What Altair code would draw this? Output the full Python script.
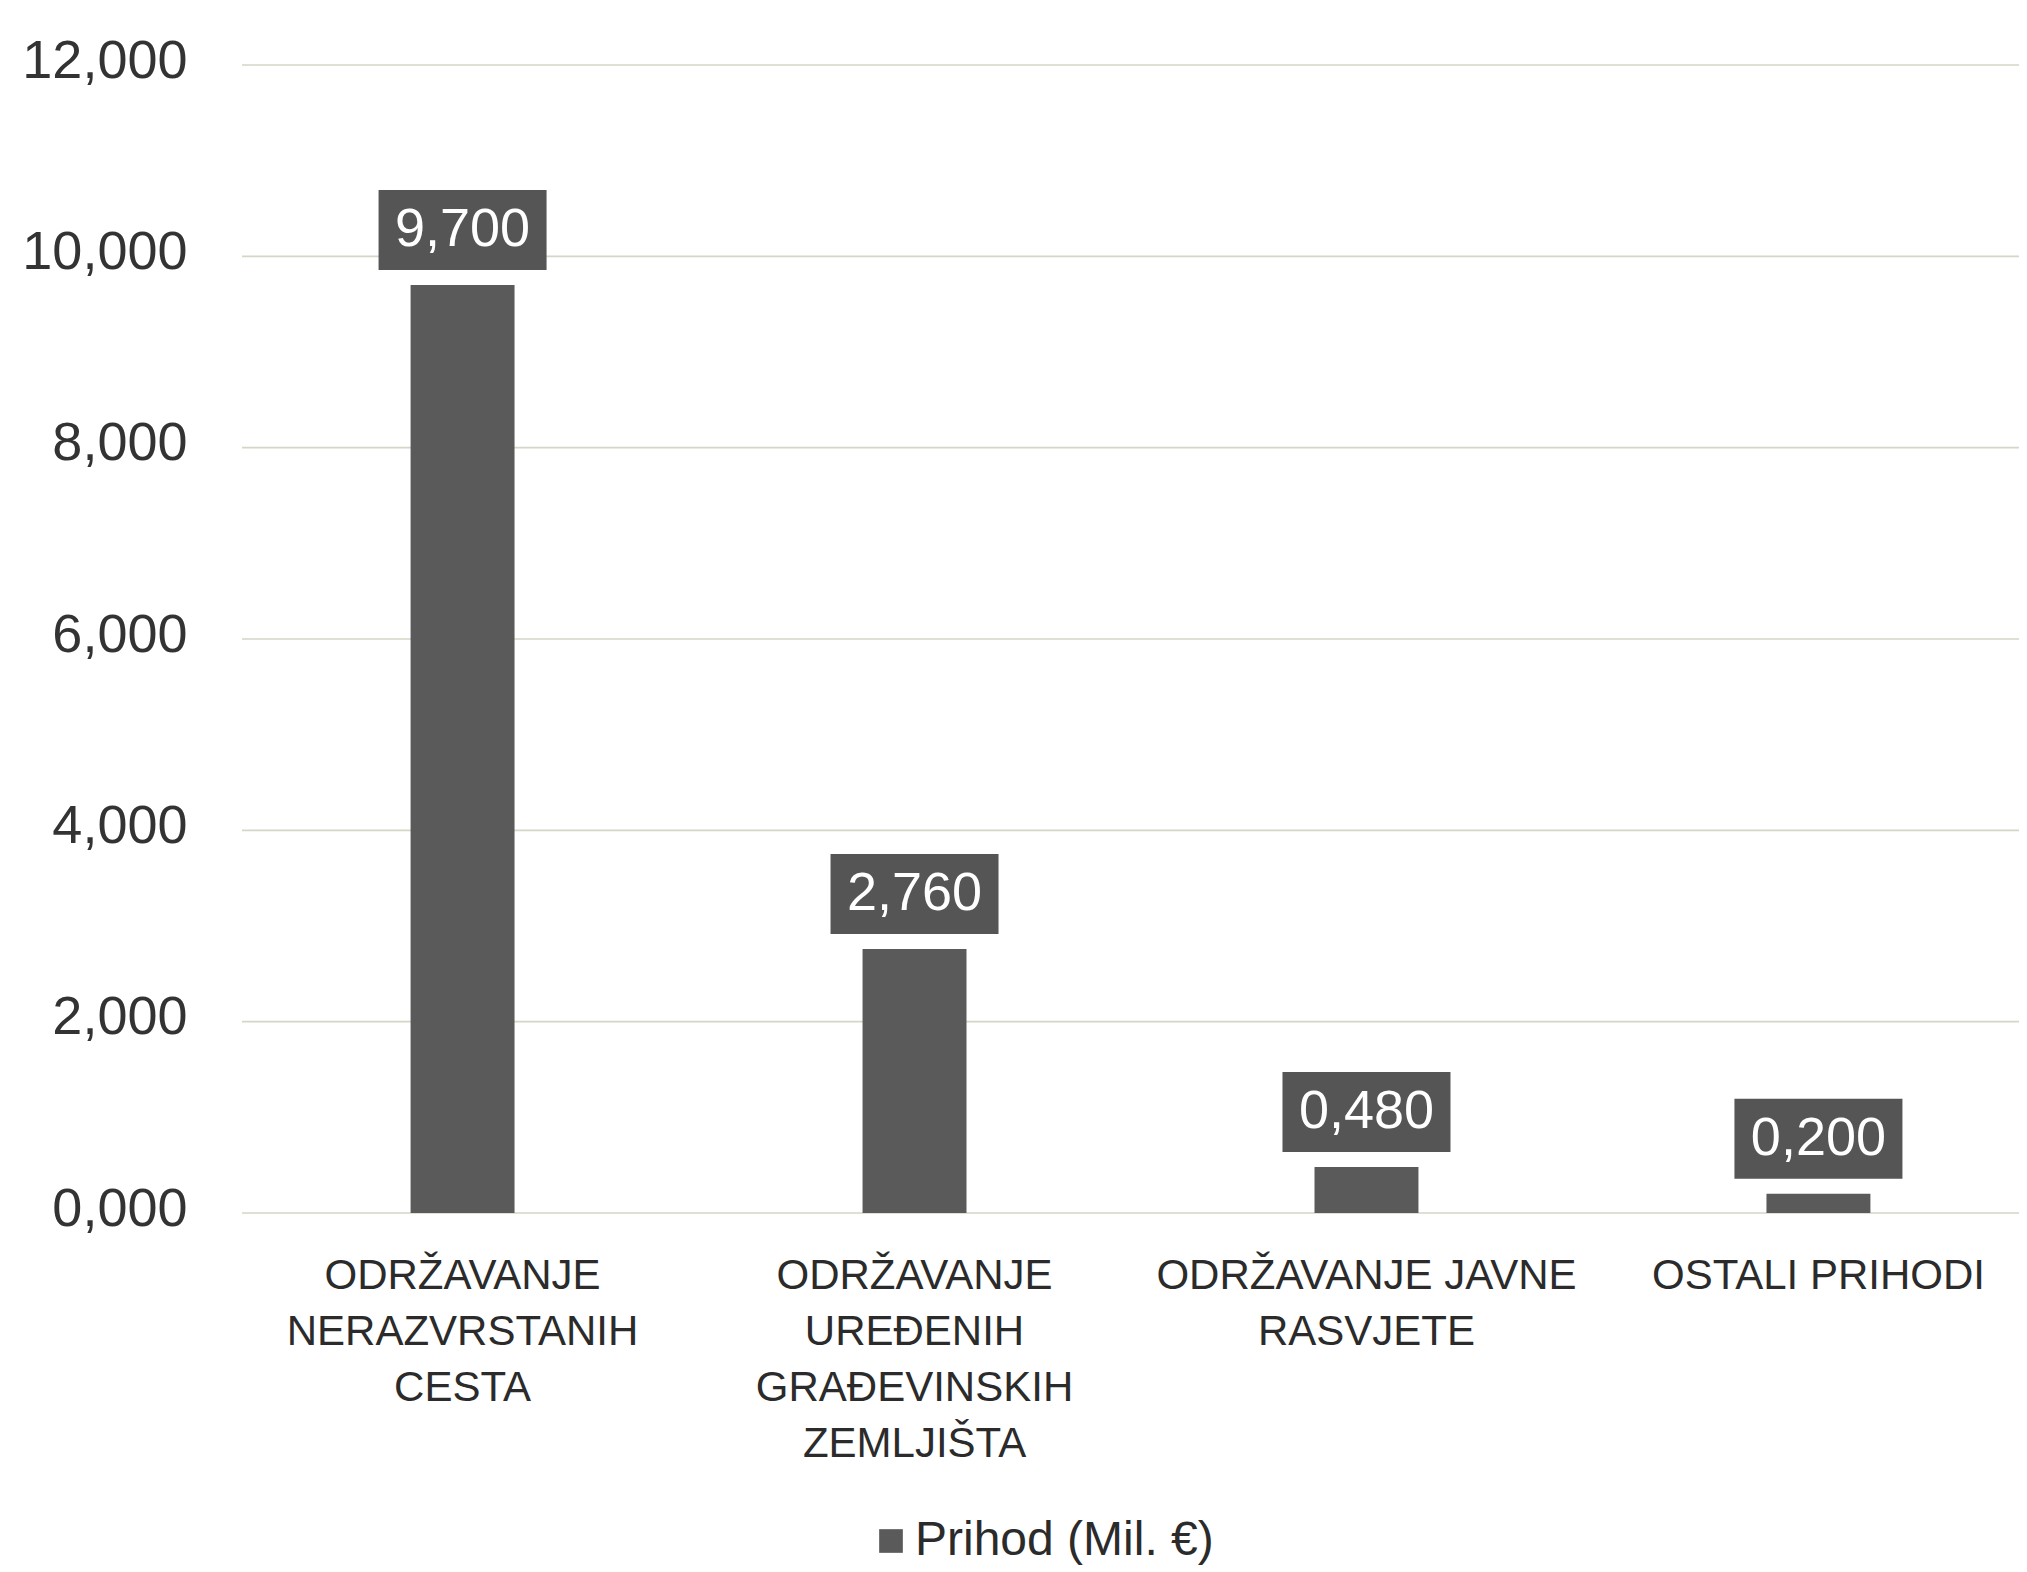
import altair as alt
import pandas as pd

# ---- data ----
categories = [
    "ODRŽAVANJE|NERAZVRSTANIH|CESTA",
    "ODRŽAVANJE|UREĐENIH|GRAĐEVINSKIH|ZEMLJIŠTA",
    "ODRŽAVANJE JAVNE|RASVJETE",
    "OSTALI PRIHODI",
]
values = [9.7, 2.76, 0.48, 0.2]
ticks = [0, 2, 4, 6, 8, 10, 12]
series_name = "Prihod (Mil. €)"

df = pd.DataFrame({"kat": categories, "prihod": values, "serija": [series_name] * len(values)})
grid_df = pd.DataFrame({"t": ticks})

W, H = 1731, 1148
FONT = "Liberation Sans"

x_enc = alt.X(
    "kat:N",
    sort=None,
    scale=alt.Scale(paddingInner=0.77, paddingOuter=0.3),
    axis=alt.Axis(
        title=None, labelAngle=0, labelExpr="split(datum.label, '|')",
        labelFontSize=42, labelLineHeight=56, labelFont=FONT,
        labelColor="#2b2b2b", labelPadding=42, domain=False, ticks=False,
        labelBaseline="top", labelLimit=0, grid=False,
    ),
)
y_scale = alt.Scale(domain=[0, 12], nice=False)
y_axis = alt.Axis(
    title=None, values=ticks,
    labelExpr="replace(format(datum.value, '.3f'), '.', ',')",
    grid=False, domain=False, ticks=False, labelFontSize=54,
    labelPadding=88, labelColor="#333333", labelFont=FONT, labelOffset=-4,
)

grid = alt.Chart(grid_df).mark_rule(color="#d2d7c6", strokeWidth=1.6).encode(
    y=alt.Y("t:Q", scale=y_scale, axis=y_axis),
    x=alt.value(-33),
    x2=alt.value(W + 13),
)

bars = alt.Chart(df).mark_bar().encode(
    x=x_enc,
    y=alt.Y("prihod:Q", scale=y_scale, axis=y_axis),
    color=alt.Color(
        "serija:N",
        scale=alt.Scale(range=["#5a5a5a"]),
        legend=alt.Legend(
            title=None, orient="none", legendX=592, legendY=1452,
            symbolType="square", symbolSize=560, symbolStrokeWidth=0,
            labelFontSize=48, labelFont=FONT, labelColor="#2b2b2b",
            padding=0, labelOffset=0, labelLimit=0,
        ),
    ),
)

boxes = alt.Chart(df).mark_point(
    shape="M-1,-1.131H1V-0.179H-1Z", size=168 * 168, filled=True,
    color="#555555", opacity=1,
).encode(x=alt.X("kat:N", sort=None), y=alt.Y("prihod:Q"))

labels = alt.Chart(df).transform_calculate(
    lbl="replace(format(datum.prihod, '.3f'), '.', ',')"
).mark_text(
    dy=-55, color="white", fontSize=54, font=FONT, baseline="middle", align="center"
).encode(x=alt.X("kat:N", sort=None), y=alt.Y("prihod:Q"), text="lbl:N")

chart = alt.layer(grid, bars, boxes, labels).properties(
    width=W, height=H,
    background="white",
    autosize=alt.AutoSizeParams(type="none"),
    padding={"left": 267, "top": 57, "right": 13, "bottom": 359},
).configure_view(strokeWidth=0, stroke="transparent")

chart.save("out.html", embed_options={"renderer": "svg", "actions": False})
